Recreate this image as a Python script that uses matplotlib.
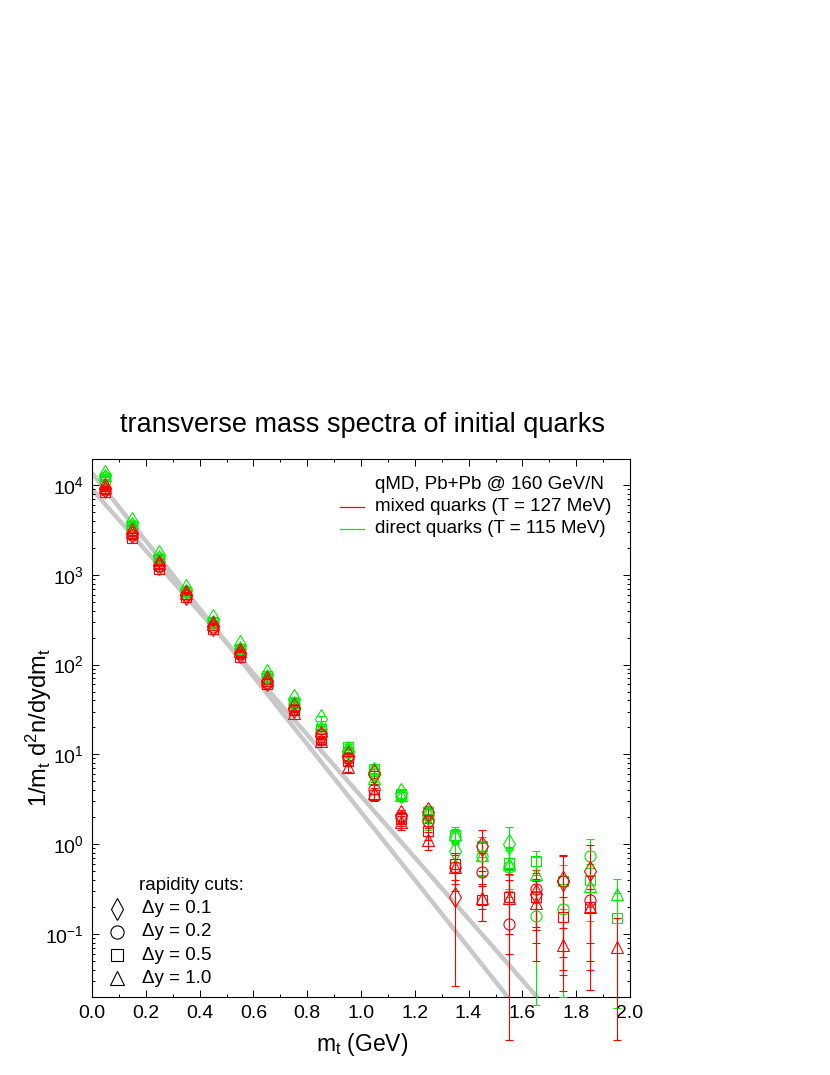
import numpy as np
import matplotlib
matplotlib.use('Agg')
import matplotlib.pyplot as plt

plt.rcParams['font.family'] = ['Liberation Sans', 'DejaVu Sans']
plt.rcParams['mathtext.fontset'] = 'custom'
plt.rcParams['mathtext.rm'] = 'Liberation Sans'
plt.rcParams['mathtext.default'] = 'regular'

# transverse mass bins (GeV)
mt = [0.05, 0.15, 0.25, 0.35, 0.45, 0.55, 0.65, 0.75, 0.85, 0.95,
      1.05, 1.15, 1.25, 1.35, 1.45, 1.55, 1.65, 1.75, 1.85, 1.95]
nan = np.nan

# direct quarks (green), one list per rapidity cut
direct_dy01 = [1.30e4, 3.9e3, 1.65e3, 700, 320, 165, 78, 41, 25, 11.0,
               6.3, 3.7, 2.1, 0.83, nan, 1.0, nan, nan, nan, nan]
direct_dy02 = [1.22e4, 3.6e3, 1.55e3, 660, 300, 148, 72, 36, 19, 10.5,
               6.0, 3.4, 1.8, 1.2, 0.74, 0.56, 0.16, 0.19, 0.74, nan]
direct_dy05 = [1.18e4, 3.5e3, 1.50e3, 650, 295, 150, 74, 37, 19, 12.0,
               6.8, 3.6, 2.3, 1.27, 0.96, 0.62, 0.64, 0.39, 0.40, 0.15]
direct_dy10 = [1.28e4, 3.8e3, 1.60e3, 680, 305, 155, 76, 38, 20, 11.5,
               5.5, 3.5, 2.2, 1.3, 0.75, 0.60, 0.47, nan, 0.34, 0.28]
direct_err01 = [400, 120, 50, 20, 10, 6, 3, 2, 1.5, 0.9,
                0.6, 0.4, 0.35, 0.2, nan, 0.55, nan, nan, nan, nan]
direct_err02 = [400, 120, 50, 20, 10, 6, 3, 2, 1.5, 0.9,
                0.6, 0.4, 0.35, 0.2, 0.3, 0.3, 0.144, 0.17, 0.39, nan]
direct_err05 = [400, 120, 50, 20, 10, 6, 3, 2, 1.5, 0.9,
                0.6, 0.4, 0.35, 0.2, 0.25, 0.3, 0.19, 0.2, 0.2, 0.135]
direct_err10 = [400, 120, 50, 20, 10, 6, 3, 2, 1.5, 0.9,
                0.6, 0.4, 0.35, 0.25, 0.3, 0.3, 0.25, nan, 0.2, 0.13]

# mixed quarks (red)
mixed_dy01 = [9.2e3, 2.9e3, 1.30e3, 600, 270, 135, 66, 33, 16, 9.5,
              6.0, 2.1, 2.3, 0.26, 0.96, nan, 0.28, 0.39, 0.50, nan]
mixed_dy02 = [8.8e3, 2.8e3, 1.25e3, 590, 265, 130, 63, 32, 17, 9.2,
              4.1, 2.0, 1.8, 0.56, 0.49, 0.13, 0.32, 0.39, 0.24, nan]
mixed_dy05 = [8.3e3, 2.6e3, 1.15e3, 560, 250, 122, 60, 31, 15, 8.5,
              3.5, 1.9, 1.4, 0.60, 0.24, 0.26, 0.26, 0.155, 0.20, nan]
mixed_dy10 = [9.5e3, 3.0e3, 1.35e3, 620, 280, 140, 67, 29, 14, 7.2,
              3.7, 1.75, 1.1, 0.55, 0.25, 0.25, 0.22, 0.075, 0.20, 0.072]
mixed_err01 = [300, 100, 45, 20, 9, 5, 2.5, 1.5, 1.2, 0.8,
               0.6, 0.3, 0.3, 0.234, 0.46, nan, 0.2, 0.367, 0.476, nan]
mixed_err02 = [300, 100, 45, 20, 9, 5, 2.5, 1.5, 1.2, 0.8,
               0.5, 0.3, 0.3, 0.2, 0.3, 0.4, 0.2, 0.35, 0.2, nan]
mixed_err05 = [300, 100, 45, 20, 9, 5, 2.5, 1.5, 1.2, 0.8,
               0.5, 0.3, 0.3, 0.2, 0.1, 0.2, 0.15, 0.1, 0.15, nan]
mixed_err10 = [300, 100, 45, 20, 9, 5, 2.5, 1.5, 1.2, 0.8,
               0.5, 0.3, 0.25, 0.25, 0.11, 0.15, 0.17, 0.04, 0.12, 0.078]

# exponential fits: amplitude at mt = 0 and temperature (GeV)
fit_mixed = (9.0e3, 0.127)
fit_direct = (1.36e4, 0.115)

markers = ['d', 'o', 's', '^']
msizes = [10, 8, 7.5, 8]
key_sizes = [11, 9.5, 9, 9.5]
cut_labels = ['\u0394y = 0.1', '\u0394y = 0.2', '\u0394y = 0.5', '\u0394y = 1.0']
red = '#ff0000'
green = '#00ee00'
floor = 0.0065  # where bars reaching below zero end

fig = plt.figure(figsize=(8.3, 10.75), dpi=100)
ax = fig.add_axes([92/830, 1-997/1075, 538/830, 538/1075])
ax.set_yscale('log')
ax.set_xlim(0, 2.0)
ax.set_ylim(0.0198, 1.95e4)

xx = np.linspace(0, 2, 50)
for amp, T in (fit_mixed, fit_direct):
    ax.plot(xx, amp*np.exp(-xx/T), color='#c8c8c8', lw=3.2, zorder=1)

series = [(green, [direct_dy01, direct_dy02, direct_dy05, direct_dy10],
           [direct_err01, direct_err02, direct_err05, direct_err10]),
          (red, [mixed_dy01, mixed_dy02, mixed_dy05, mixed_dy10],
           [mixed_err01, mixed_err02, mixed_err05, mixed_err10])]
for color, vals, errs in series:
    for m, ms, v, e in zip(markers, msizes, vals, errs):
        v = np.array(v, dtype=float)
        e = np.array(e, dtype=float)
        lo = np.where(v - e > 0, e, v - floor)
        eb = ax.errorbar(mt, v, yerr=[lo, e], fmt=m, ms=ms, mfc='none', mec=color,
                         mew=0.8, ecolor=color, elinewidth=0.8, capsize=3.2,
                         capthick=0.8, zorder=3)
        for art in eb.get_children():
            art.set_clip_on(False)

ax.set_xticks(np.arange(0, 2.01, 0.2))
ax.set_xticks(np.arange(0.1, 2.0, 0.2), minor=True)
ax.xaxis.set_major_formatter(matplotlib.ticker.FormatStrFormatter('%.1f'))
ax.yaxis.set_minor_formatter(matplotlib.ticker.NullFormatter())
ax.tick_params(which='both', direction='in', top=True, right=True, width=0.7,
               labelsize=14)
ax.tick_params(which='major', length=5, pad=6)
ax.tick_params(which='minor', length=2.5)
for s in ax.spines.values():
    s.set_linewidth(0.8)

# top-right key
ax.text(0.526, 0.952, 'qMD, Pb+Pb @ 160 GeV/N', transform=ax.transAxes,
        fontsize=13.5, va='center')
ax.plot([0.461, 0.506], [0.911, 0.911], color=red, lw=0.9, transform=ax.transAxes)
ax.text(0.526, 0.911, 'mixed quarks (T = 127 MeV)', transform=ax.transAxes,
        fontsize=13.5, va='center')
ax.plot([0.461, 0.506], [0.870, 0.870], color=green, lw=0.9, transform=ax.transAxes)
ax.text(0.526, 0.870, 'direct quarks (T = 115 MeV)', transform=ax.transAxes,
        fontsize=13.5, va='center')

# bottom-left key
ax.text(0.087, 0.208, 'rapidity cuts:', transform=ax.transAxes, fontsize=13.5,
        va='center')
for i, (m, ms, lab) in enumerate(zip(markers, key_sizes, cut_labels)):
    yy = 0.164 - i*0.043
    ax.plot([0.046], [yy], m, ms=ms, mfc='none', mec='k', mew=0.8,
            transform=ax.transAxes)
    ax.text(0.093, yy, lab, transform=ax.transAxes, fontsize=13.5, va='center')

fig.text(362/830, 1-425/1075, 'transverse mass spectra of initial quarks',
         fontsize=19.5, ha='center', va='center')
fig.text(362/830, 1-1045/1075, 'm$_\\mathrm{t}$ (GeV)', fontsize=16.5,
         ha='center', va='center')
fig.text(39/830, 1-728/1075, '1/m$_\\mathrm{t}$ d$^\\mathrm{2}$n/dydm$_\\mathrm{t}$',
         fontsize=17, rotation=90, ha='center', va='center')

fig.savefig('out.png', dpi=100)
